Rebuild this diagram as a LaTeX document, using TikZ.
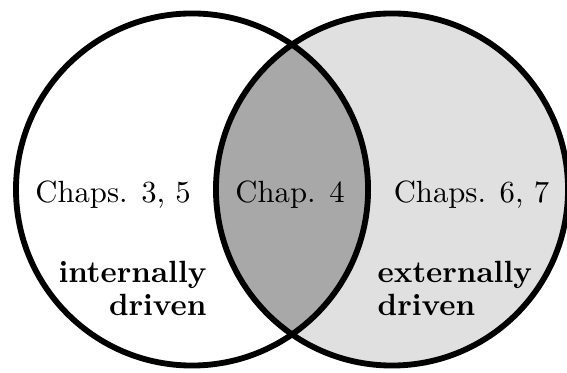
\documentclass[tikz,border=0pt]{standalone}
\begin{document}
\begin{tikzpicture}[
	ring/.style={line width=1.9pt},
	chaps/.style={inner sep=0pt, anchor=base},
	driven/.style={inner sep=0pt, font=\bfseries}]
	\useasboundingbox (0,0) rectangle (6.490,4.258);
	\coordinate (L) at (2.198,2.089);
	\coordinate (R) at (4.487,2.089);
	\fill[black!12] (R) circle (2.015);
	\begin{scope}
		\clip (L) circle (2.015);
		\fill[black!34] (R) circle (2.015);
	\end{scope}
	\draw[ring] (L) circle (2.015);
	\draw[ring] (R) circle (2.015);
	\node[chaps] (chL) at (1.294,1.935) {Chaps. 3, 5};
	\node[chaps] (chM) at (3.320,1.935) {Chap. 4};
	\node[chaps] (chR) at (5.397,1.935) {Chaps. 6, 7};
	\node[driven, anchor=north east, align=right] (intL) at (2.370,1.277) {internally\\[-1.2pt] driven};
	\node[driven, anchor=north west, align=left] (extR) at (4.316,1.277) {externally\\[-1.2pt] driven};
\end{tikzpicture}
\end{document}
